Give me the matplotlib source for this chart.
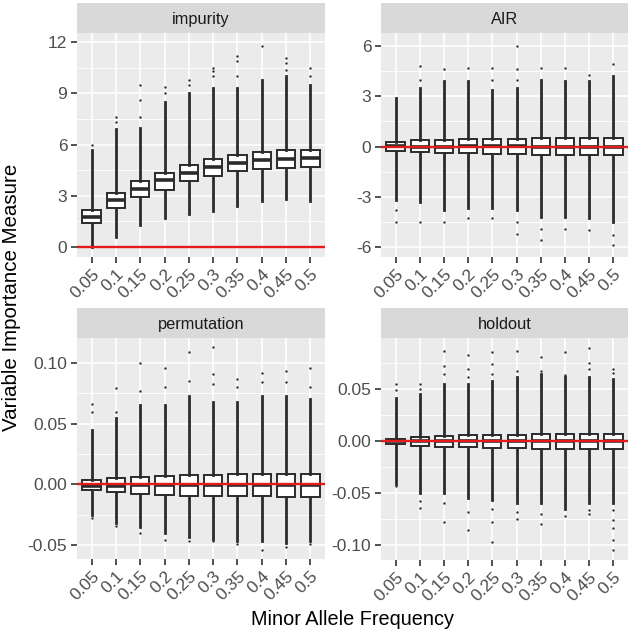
import matplotlib.pyplot as plt
from matplotlib.ticker import MultipleLocator

plt.rcParams['font.family'] = ['Liberation Sans', 'DejaVu Sans']

maf = ['0.05', '0.1', '0.15', '0.2', '0.25', '0.3', '0.35', '0.4', '0.45', '0.5']

# impurity
imp_q1 = [1.40, 2.30, 2.93, 3.36, 3.84, 4.16, 4.43, 4.59, 4.64, 4.68]
imp_med = [1.76, 2.73, 3.41, 3.90, 4.33, 4.68, 4.92, 5.07, 5.17, 5.19]
imp_q3 = [2.15, 3.16, 3.84, 4.33, 4.82, 5.13, 5.37, 5.56, 5.66, 5.70]
imp_lo = [0.0, 0.6, 1.3, 1.7, 1.9, 2.1, 2.4, 2.7, 2.8, 2.7]
imp_hi = [5.7, 6.9, 7.0, 8.5, 9.0, 9.3, 9.3, 9.8, 10.0, 9.5]
imp_out = [[6.0], [7.3, 7.6], [7.6, 8.6, 9.5], [9.0, 9.4], [9.5, 9.8],
           [10.0, 10.3, 10.5], [10.0, 10.9, 11.2], [11.8], [10.4, 10.8, 11.1], [10.0, 10.5]]

# AIR
air_q1 = [-0.28, -0.34, -0.40, -0.40, -0.44, -0.46, -0.48, -0.48, -0.48, -0.50]
air_med = [0.02, 0.0, 0.0, 0.02, 0.02, 0.02, 0.0, 0.0, 0.0, 0.0]
air_q3 = [0.26, 0.36, 0.40, 0.42, 0.44, 0.46, 0.48, 0.48, 0.48, 0.50]
air_lo = [-3.2, -3.3, -3.8, -3.7, -3.7, -3.8, -4.2, -4.2, -4.3, -4.5]
air_hi = [2.9, 3.5, 3.9, 3.9, 3.4, 3.5, 4.0, 3.9, 3.9, 4.2]
air_out = [[-3.8, -4.5], [4.0, 4.8, -4.5], [4.6, -4.5], [4.7, -4.3], [4.0, 4.7, -4.3],
           [4.0, 4.6, 6.0, -4.5, -5.2], [4.7, -4.9, -5.6], [4.7, -4.9], [4.3, -5.0], [4.9, -5.3, -5.9]]

# permutation
perm_q1 = [-0.0049, -0.0066, -0.0080, -0.0088, -0.0093, -0.0096, -0.0098, -0.0099, -0.0101, -0.0102]
perm_med = [-0.001, -0.001, -0.0008, -0.0006, -0.0005, -0.0005, -0.0005, -0.0005, -0.0005, -0.0005]
perm_q3 = [0.0033, 0.0050, 0.0058, 0.0069, 0.0077, 0.0080, 0.0082, 0.0083, 0.0083, 0.0085]
perm_lo = [-0.025, -0.032, -0.035, -0.040, -0.043, -0.045, -0.047, -0.047, -0.048, -0.047]
perm_hi = [0.045, 0.055, 0.065, 0.065, 0.073, 0.068, 0.068, 0.073, 0.073, 0.070]
perm_out = [[0.060, 0.066, -0.028], [0.060, 0.079, -0.034], [0.077, 0.100, -0.040],
            [0.080, 0.096, -0.046], [0.085, 0.109, -0.047], [0.083, 0.091, 0.113, -0.047],
            [0.080, 0.087, -0.049], [0.084, 0.092, -0.054], [0.084, 0.093, -0.052],
            [0.080, 0.096, -0.049]]

# holdout
hold_q1 = [-0.0029, -0.0045, -0.0055, -0.0060, -0.0064, -0.0066, -0.0071, -0.0071, -0.0071, -0.0073]
hold_med = [-0.0003, -0.0002, 0.0, 0.0, 0.0, 0.0, 0.0, 0.0, 0.0, 0.0]
hold_q3 = [0.0023, 0.0042, 0.0051, 0.0055, 0.0061, 0.0064, 0.0068, 0.0068, 0.0068, 0.0068]
hold_lo = [-0.041, -0.050, -0.050, -0.055, -0.057, -0.060, -0.060, -0.065, -0.060, -0.060]
hold_hi = [0.042, 0.045, 0.055, 0.055, 0.058, 0.062, 0.065, 0.062, 0.062, 0.060]
hold_out = [[0.049, 0.055, -0.043], [0.050, 0.055, -0.058, -0.064], [0.065, 0.072, 0.087, -0.060, -0.078],
            [0.062, 0.070, 0.083, -0.068, -0.086], [0.065, 0.074, 0.086, -0.065, -0.078, -0.097],
            [0.068, 0.087, -0.068, -0.075], [0.068, 0.081, -0.070, -0.080], [0.064, 0.086, -0.072],
            [0.070, 0.075, 0.090, -0.066, -0.070], [0.066, 0.070, -0.066, -0.076, -0.084, -0.095, -0.105]]

panels = [
    ('impurity', imp_q1, imp_med, imp_q3, imp_lo, imp_hi, imp_out, (-0.6, 12.55), 3),
    ('AIR', air_q1, air_med, air_q3, air_lo, air_hi, air_out, (-6.6, 6.78), 3),
    ('permutation', perm_q1, perm_med, perm_q3, perm_lo, perm_hi, perm_out, (-0.0615, 0.1206), 0.05),
    ('holdout', hold_q1, hold_med, hold_q3, hold_lo, hold_hi, hold_out, (-0.1145, 0.0994), 0.05),
]
# pixel boxes (left, top, right, bottom) of each panel
boxes = [(77, 33, 325, 257), (381, 33, 628, 257), (77, 338, 325, 559), (381, 338, 628, 560)]

W = H = 633
fig = plt.figure(figsize=(6.33, 6.33), dpi=100)

for (name, q1, med, q3, lo, hi, out, ylim, step), (l, t, r, b) in zip(panels, boxes):
    ax = fig.add_axes([l / W, 1 - b / H, (r - l) / W, (b - t) / H])
    ax.set_facecolor('#EBEBEB')
    for s in ax.spines.values():
        s.set_visible(False)
    stats = [dict(q1=q1[i], med=med[i], q3=q3[i], whislo=lo[i], whishi=hi[i], fliers=out[i])
             for i in range(len(maf))]
    ax.bxp(stats, positions=range(1, len(maf) + 1), widths=0.75, showcaps=False, patch_artist=True,
           boxprops=dict(facecolor='white', edgecolor='#2b2b2b', linewidth=1.4),
           whiskerprops=dict(color='#2b2b2b', linewidth=2.0),
           medianprops=dict(color='#2b2b2b', linewidth=2.6),
           flierprops=dict(marker='o', markersize=1.7, markerfacecolor='#2b2b2b',
                           markeredgecolor='none'), zorder=3)
    ax.axhline(0, color='#e41a1c', linewidth=1.7, zorder=4)
    ax.set_xlim(0.4, len(maf) + 0.6)
    ax.set_ylim(*ylim)
    ax.yaxis.set_major_locator(MultipleLocator(step))
    ax.yaxis.set_minor_locator(MultipleLocator(step / 2))
    ax.set_xticks(range(1, len(maf) + 1))
    ax.set_xticklabels(maf, rotation=45, ha='right', va='top', rotation_mode='anchor')
    ax.grid(True, which='major', color='white', linewidth=1.2)
    ax.grid(True, which='minor', axis='y', color='white', linewidth=0.6)
    ax.set_axisbelow(True)
    ax.tick_params(which='major', length=4, width=1.2, color='#333333', labelcolor='#4D4D4D',
                   labelsize=12.5, pad=3)
    ax.tick_params(which='minor', length=0)
    if step < 1:
        ax.yaxis.set_major_formatter(plt.FuncFormatter(lambda v, p: f'{v:.2f}'))
    else:
        ax.yaxis.set_major_formatter(plt.FuncFormatter(lambda v, p: f'{v:.0f}'))
    # strip
    sax = fig.add_axes([l / W, 1 - t / H, (r - l) / W, 30 / H])
    sax.set_facecolor('#D9D9D9')
    sax.set_xticks([])
    sax.set_yticks([])
    for s in sax.spines.values():
        s.set_visible(False)
    sax.text(0.5, 0.45, name, ha='center', va='center', fontsize=11.8, color='#1A1A1A',
             transform=sax.transAxes)

fig.text(353 / W, 1 - 625 / H, 'Minor Allele Frequency', ha='center', va='baseline', fontsize=14.3)
fig.text(12 / W, 1 - 297 / H, 'Variable Importance Measure', ha='center', va='center',
         rotation=90, fontsize=14.8)

fig.savefig('out.png', dpi=100)
